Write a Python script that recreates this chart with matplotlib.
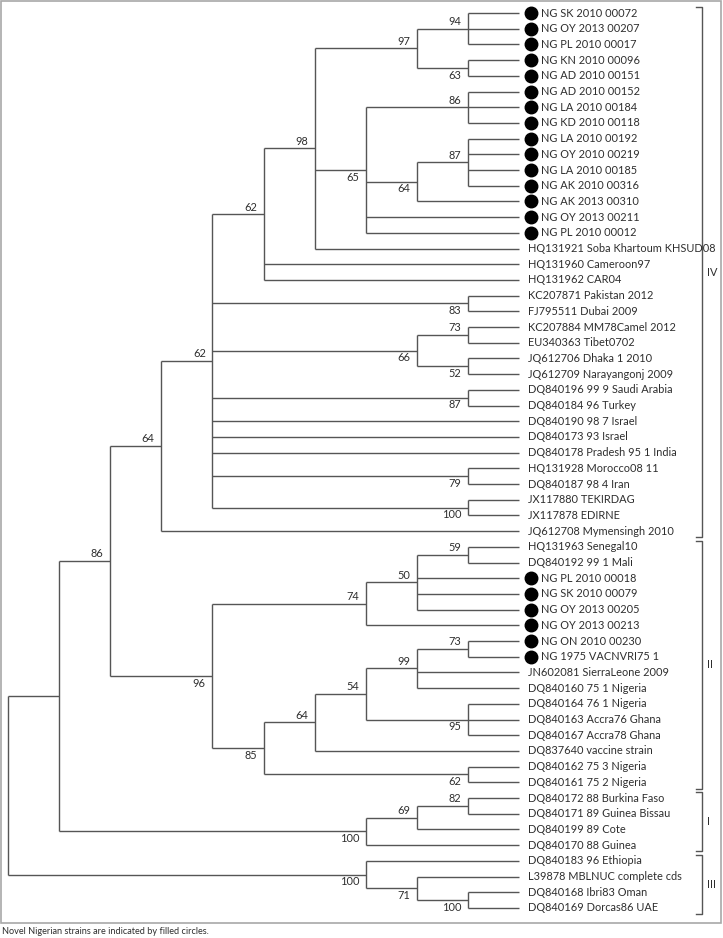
import matplotlib
matplotlib.use("Agg")
import matplotlib.pyplot as plt
from matplotlib.patches import Rectangle

plt.rcParams['font.family'] = ['Lato', 'DejaVu Sans']

# tip labels, top to bottom
leaves = [
    "NG SK 2010 00072", "NG OY 2013 00207", "NG PL 2010 00017", "NG KN 2010 00096",
    "NG AD 2010 00151", "NG AD 2010 00152", "NG LA 2010 00184", "NG KD 2010 00118",
    "NG LA 2010 00192", "NG OY 2010 00219", "NG LA 2010 00185", "NG AK 2010 00316",
    "NG AK 2013 00310", "NG OY 2013 00211", "NG PL 2010 00012",
    "HQ131921 Soba Khartoum KHSUD08", "HQ131960 Cameroon97", "HQ131962 CAR04",
    "KC207871 Pakistan 2012", "FJ795511 Dubai 2009", "KC207884 MM78Camel 2012",
    "EU340363 Tibet0702", "JQ612706 Dhaka 1 2010", "JQ612709 Narayangonj 2009",
    "DQ840196 99 9 Saudi Arabia", "DQ840184 96 Turkey", "DQ840190 98 7 Israel",
    "DQ840173 93 Israel", "DQ840178 Pradesh 95 1 India", "HQ131928 Morocco08 11",
    "DQ840187 98 4 Iran", "JX117880 TEKIRDAG", "JX117878 EDIRNE",
    "JQ612708 Mymensingh 2010", "HQ131963 Senegal10", "DQ840192 99 1 Mali",
    "NG PL 2010 00018", "NG SK 2010 00079", "NG OY 2013 00205", "NG OY 2013 00213",
    "NG ON 2010 00230", "NG 1975 VACNVRI75 1", "JN602081 SierraLeone 2009",
    "DQ840160 75 1 Nigeria", "DQ840164 76 1 Nigeria", "DQ840163 Accra76 Ghana",
    "DQ840167 Accra78 Ghana", "DQ837640 vaccine strain", "DQ840162 75 3 Nigeria",
    "DQ840161 75 2 Nigeria", "DQ840172 88 Burkina Faso", "DQ840171 89 Guinea Bissau",
    "DQ840199 89 Cote", "DQ840170 88 Guinea", "DQ840183 96 Ethiopia",
    "L39878 MBLNUC complete cds", "DQ840168 Ibri83 Oman", "DQ840169 Dorcas86 UAE",
]

# novel Nigerian strains (filled circles)
novel = list(range(0, 15)) + list(range(36, 42))

# topology: (bootstrap, [children]), leaves are indices
tree = (None, [
    (None, [
        (86, [
            (64, [
                (62, [
                    (62, [
                        (98, [
                            (97, [(94, [0, 1, 2]), (63, [3, 4])]),
                            (65, [(86, [5, 6, 7]), (64, [(87, [8, 9, 10, 11]), 12]), 13, 14]),
                            15]),
                        16, 17]),
                    (83, [18, 19]),
                    (66, [(73, [20, 21]), (52, [22, 23])]),
                    (87, [24, 25]),
                    26, 27, 28,
                    (79, [29, 30]),
                    (100, [31, 32])]),
                33]),
            (96, [
                (74, [(50, [(59, [34, 35]), 36, 37, 38]), 39]),
                (85, [
                    (64, [(54, [(99, [(73, [40, 41]), 42, 43]), (95, [44, 45, 46])]), 47]),
                    (62, [48, 49])])])]),
        (100, [(69, [(82, [50, 51]), 52]), 53])]),
    (100, [54, (71, [55, (100, [56, 57])])])])

# clade brackets: (label, first leaf, last leaf)
clade_names = ["IV", "II", "I", "III"]
clade_first = [0, 34, 50, 54]
clade_last = [33, 49, 53, 57]

line_c = "#555555"
text_c = "#2e2e2e"
fs = 7.9
depth_max = 10

fig = plt.figure(figsize=(7.23, 9.38), dpi=100)
ax = fig.add_axes([0, 0, 1, 1])
# 51.1 px per level, 15.7 px per row
ax.set_xlim(-8 / 51.1, (723 - 8) / 51.1)
ax.set_ylim((938 - 13) / 15.7, -13 / 15.7)
ax.axis("off")


def height(node):
    if isinstance(node, int):
        return 0
    return 1 + max(height(c) for c in node[1])


def draw(node):
    # returns (x, y) of node
    if isinstance(node, int):
        return depth_max, node
    x = depth_max - height(node)
    pos = [draw(c) for c in node[1]]
    ys = [p[1] for p in pos]
    y = (ys[0] + ys[-1]) / 2
    ax.plot([x, x], [ys[0], ys[-1]], color=line_c, lw=1.0, solid_capstyle="butt")
    for i, (c, (cx, cy)) in enumerate(zip(node[1], pos)):
        ax.plot([x, cx], [cy, cy], color=line_c, lw=1.0, solid_capstyle="butt")
        if not isinstance(c, int) and c[0] is not None:
            dy = -0.45 if i == 0 else 0.45
            ax.text(cx - 0.13, cy + dy, str(c[0]), ha="right", va="center",
                    fontsize=fs, color=text_c)
    return x, y


draw(tree)

for i, name in enumerate(leaves):
    if i in novel:
        ax.plot(depth_max + 0.235, i, "o", color="black", ms=9)
        ax.text(depth_max + 0.43, i, name, ha="left", va="center", fontsize=fs, color=text_c)
    else:
        ax.text(depth_max + 0.18, i, name, ha="left", va="center", fontsize=fs, color=text_c)

bx = (702 - 8) / 51.1
for name, a, b in zip(clade_names, clade_first, clade_last):
    ax.plot([bx - 0.12, bx, bx, bx - 0.12], [a - 0.4, a - 0.4, b + 0.4, b + 0.4],
            color=line_c, lw=1.0)
    ax.text(bx + 0.09, (a + b) / 2, name, ha="left", va="center", fontsize=fs, color=text_c)

fig.patches.append(Rectangle((1 / 723, 1 - 923 / 938), 720 / 723, 922 / 938,
                             transform=fig.transFigure, fill=False,
                             edgecolor="#a8a8a8", lw=1.2))
fig.text(2 / 723, 1 - 931 / 938, "Novel Nigerian strains are indicated by filled circles.",
         ha="left", va="center", fontsize=6.6, color=text_c)

fig.savefig("out.png", dpi=100)
